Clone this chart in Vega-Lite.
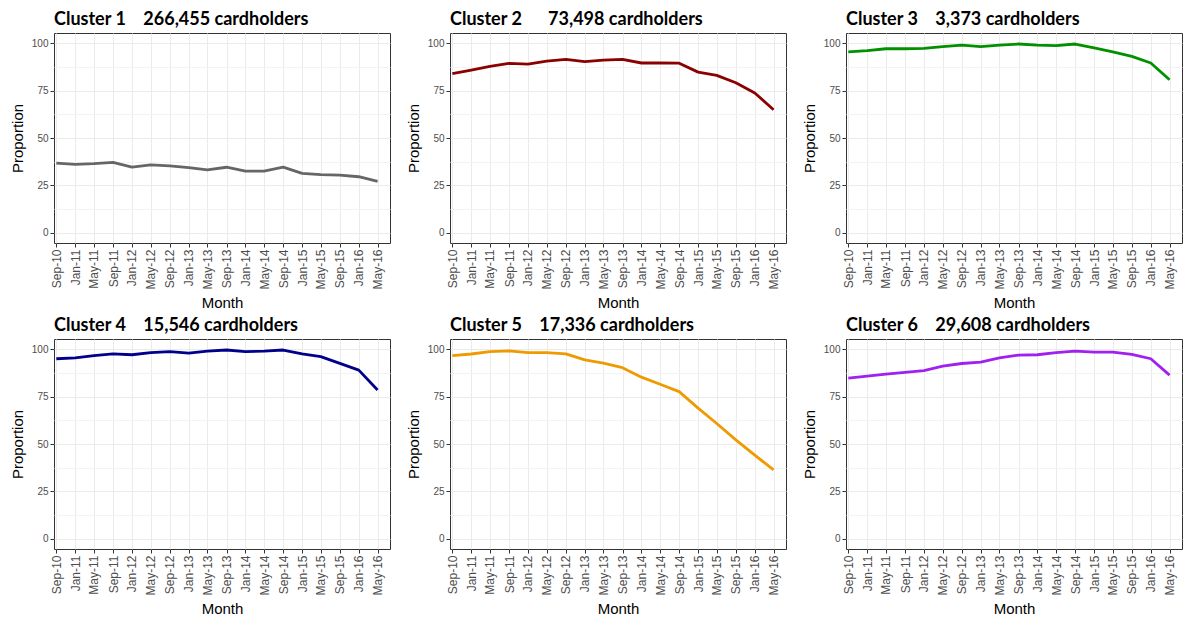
{
  "$schema": "https://vega.github.io/schema/vega-lite/v6.json",
  "padding": {"left": 9, "top": 10, "right": 2, "bottom": 2},
  "background": "white",
  "datasets": {
    "rows": [
      {"cluster": "Cluster 1\u00a0\u00a0\u00a0\u00a0266,455 cardholders", "month": "2010-09-01T00:00:00", "p": 36.8},
      {"cluster": "Cluster 1\u00a0\u00a0\u00a0\u00a0266,455 cardholders", "month": "2011-01-01T00:00:00", "p": 36.1},
      {"cluster": "Cluster 1\u00a0\u00a0\u00a0\u00a0266,455 cardholders", "month": "2011-05-01T00:00:00", "p": 36.5},
      {"cluster": "Cluster 1\u00a0\u00a0\u00a0\u00a0266,455 cardholders", "month": "2011-09-01T00:00:00", "p": 37.2},
      {"cluster": "Cluster 1\u00a0\u00a0\u00a0\u00a0266,455 cardholders", "month": "2012-01-01T00:00:00", "p": 34.7},
      {"cluster": "Cluster 1\u00a0\u00a0\u00a0\u00a0266,455 cardholders", "month": "2012-05-01T00:00:00", "p": 35.8},
      {"cluster": "Cluster 1\u00a0\u00a0\u00a0\u00a0266,455 cardholders", "month": "2012-09-01T00:00:00", "p": 35.3},
      {"cluster": "Cluster 1\u00a0\u00a0\u00a0\u00a0266,455 cardholders", "month": "2013-01-01T00:00:00", "p": 34.4},
      {"cluster": "Cluster 1\u00a0\u00a0\u00a0\u00a0266,455 cardholders", "month": "2013-05-01T00:00:00", "p": 33.2},
      {"cluster": "Cluster 1\u00a0\u00a0\u00a0\u00a0266,455 cardholders", "month": "2013-09-01T00:00:00", "p": 34.6},
      {"cluster": "Cluster 1\u00a0\u00a0\u00a0\u00a0266,455 cardholders", "month": "2014-01-01T00:00:00", "p": 32.6},
      {"cluster": "Cluster 1\u00a0\u00a0\u00a0\u00a0266,455 cardholders", "month": "2014-05-01T00:00:00", "p": 32.6},
      {"cluster": "Cluster 1\u00a0\u00a0\u00a0\u00a0266,455 cardholders", "month": "2014-09-01T00:00:00", "p": 34.7},
      {"cluster": "Cluster 1\u00a0\u00a0\u00a0\u00a0266,455 cardholders", "month": "2015-01-01T00:00:00", "p": 31.4},
      {"cluster": "Cluster 1\u00a0\u00a0\u00a0\u00a0266,455 cardholders", "month": "2015-05-01T00:00:00", "p": 30.7},
      {"cluster": "Cluster 1\u00a0\u00a0\u00a0\u00a0266,455 cardholders", "month": "2015-09-01T00:00:00", "p": 30.5},
      {"cluster": "Cluster 1\u00a0\u00a0\u00a0\u00a0266,455 cardholders", "month": "2016-01-01T00:00:00", "p": 29.6},
      {"cluster": "Cluster 1\u00a0\u00a0\u00a0\u00a0266,455 cardholders", "month": "2016-05-01T00:00:00", "p": 27.2},
      {"cluster": "Cluster 2\u00a0\u00a0\u00a0\u00a0\u00a0\u00a073,498 cardholders", "month": "2010-09-01T00:00:00", "p": 83.9},
      {"cluster": "Cluster 2\u00a0\u00a0\u00a0\u00a0\u00a0\u00a073,498 cardholders", "month": "2011-01-01T00:00:00", "p": 85.8},
      {"cluster": "Cluster 2\u00a0\u00a0\u00a0\u00a0\u00a0\u00a073,498 cardholders", "month": "2011-05-01T00:00:00", "p": 87.7},
      {"cluster": "Cluster 2\u00a0\u00a0\u00a0\u00a0\u00a0\u00a073,498 cardholders", "month": "2011-09-01T00:00:00", "p": 89.3},
      {"cluster": "Cluster 2\u00a0\u00a0\u00a0\u00a0\u00a0\u00a073,498 cardholders", "month": "2012-01-01T00:00:00", "p": 88.9},
      {"cluster": "Cluster 2\u00a0\u00a0\u00a0\u00a0\u00a0\u00a073,498 cardholders", "month": "2012-05-01T00:00:00", "p": 90.5},
      {"cluster": "Cluster 2\u00a0\u00a0\u00a0\u00a0\u00a0\u00a073,498 cardholders", "month": "2012-09-01T00:00:00", "p": 91.4},
      {"cluster": "Cluster 2\u00a0\u00a0\u00a0\u00a0\u00a0\u00a073,498 cardholders", "month": "2013-01-01T00:00:00", "p": 90.2},
      {"cluster": "Cluster 2\u00a0\u00a0\u00a0\u00a0\u00a0\u00a073,498 cardholders", "month": "2013-05-01T00:00:00", "p": 91.0},
      {"cluster": "Cluster 2\u00a0\u00a0\u00a0\u00a0\u00a0\u00a073,498 cardholders", "month": "2013-09-01T00:00:00", "p": 91.4},
      {"cluster": "Cluster 2\u00a0\u00a0\u00a0\u00a0\u00a0\u00a073,498 cardholders", "month": "2014-01-01T00:00:00", "p": 89.5},
      {"cluster": "Cluster 2\u00a0\u00a0\u00a0\u00a0\u00a0\u00a073,498 cardholders", "month": "2014-05-01T00:00:00", "p": 89.5},
      {"cluster": "Cluster 2\u00a0\u00a0\u00a0\u00a0\u00a0\u00a073,498 cardholders", "month": "2014-09-01T00:00:00", "p": 89.4},
      {"cluster": "Cluster 2\u00a0\u00a0\u00a0\u00a0\u00a0\u00a073,498 cardholders", "month": "2015-01-01T00:00:00", "p": 84.7},
      {"cluster": "Cluster 2\u00a0\u00a0\u00a0\u00a0\u00a0\u00a073,498 cardholders", "month": "2015-05-01T00:00:00", "p": 83.0},
      {"cluster": "Cluster 2\u00a0\u00a0\u00a0\u00a0\u00a0\u00a073,498 cardholders", "month": "2015-09-01T00:00:00", "p": 79.1},
      {"cluster": "Cluster 2\u00a0\u00a0\u00a0\u00a0\u00a0\u00a073,498 cardholders", "month": "2016-01-01T00:00:00", "p": 73.7},
      {"cluster": "Cluster 2\u00a0\u00a0\u00a0\u00a0\u00a0\u00a073,498 cardholders", "month": "2016-05-01T00:00:00", "p": 64.9},
      {"cluster": "Cluster 3\u00a0\u00a0\u00a0\u00a03,373 cardholders", "month": "2010-09-01T00:00:00", "p": 95.4},
      {"cluster": "Cluster 3\u00a0\u00a0\u00a0\u00a03,373 cardholders", "month": "2011-01-01T00:00:00", "p": 96.0},
      {"cluster": "Cluster 3\u00a0\u00a0\u00a0\u00a03,373 cardholders", "month": "2011-05-01T00:00:00", "p": 97.0},
      {"cluster": "Cluster 3\u00a0\u00a0\u00a0\u00a03,373 cardholders", "month": "2011-09-01T00:00:00", "p": 97.0},
      {"cluster": "Cluster 3\u00a0\u00a0\u00a0\u00a03,373 cardholders", "month": "2012-01-01T00:00:00", "p": 97.2},
      {"cluster": "Cluster 3\u00a0\u00a0\u00a0\u00a03,373 cardholders", "month": "2012-05-01T00:00:00", "p": 98.1},
      {"cluster": "Cluster 3\u00a0\u00a0\u00a0\u00a03,373 cardholders", "month": "2012-09-01T00:00:00", "p": 98.9},
      {"cluster": "Cluster 3\u00a0\u00a0\u00a0\u00a03,373 cardholders", "month": "2013-01-01T00:00:00", "p": 98.1},
      {"cluster": "Cluster 3\u00a0\u00a0\u00a0\u00a03,373 cardholders", "month": "2013-05-01T00:00:00", "p": 98.9},
      {"cluster": "Cluster 3\u00a0\u00a0\u00a0\u00a03,373 cardholders", "month": "2013-09-01T00:00:00", "p": 99.5},
      {"cluster": "Cluster 3\u00a0\u00a0\u00a0\u00a03,373 cardholders", "month": "2014-01-01T00:00:00", "p": 98.9},
      {"cluster": "Cluster 3\u00a0\u00a0\u00a0\u00a03,373 cardholders", "month": "2014-05-01T00:00:00", "p": 98.6},
      {"cluster": "Cluster 3\u00a0\u00a0\u00a0\u00a03,373 cardholders", "month": "2014-09-01T00:00:00", "p": 99.5},
      {"cluster": "Cluster 3\u00a0\u00a0\u00a0\u00a03,373 cardholders", "month": "2015-01-01T00:00:00", "p": 97.5},
      {"cluster": "Cluster 3\u00a0\u00a0\u00a0\u00a03,373 cardholders", "month": "2015-05-01T00:00:00", "p": 95.4},
      {"cluster": "Cluster 3\u00a0\u00a0\u00a0\u00a03,373 cardholders", "month": "2015-09-01T00:00:00", "p": 93.0},
      {"cluster": "Cluster 3\u00a0\u00a0\u00a0\u00a03,373 cardholders", "month": "2016-01-01T00:00:00", "p": 89.5},
      {"cluster": "Cluster 3\u00a0\u00a0\u00a0\u00a03,373 cardholders", "month": "2016-05-01T00:00:00", "p": 80.7},
      {"cluster": "Cluster 4\u00a0\u00a0\u00a0\u00a015,546 cardholders", "month": "2010-09-01T00:00:00", "p": 94.9},
      {"cluster": "Cluster 4\u00a0\u00a0\u00a0\u00a015,546 cardholders", "month": "2011-01-01T00:00:00", "p": 95.4},
      {"cluster": "Cluster 4\u00a0\u00a0\u00a0\u00a015,546 cardholders", "month": "2011-05-01T00:00:00", "p": 96.5},
      {"cluster": "Cluster 4\u00a0\u00a0\u00a0\u00a015,546 cardholders", "month": "2011-09-01T00:00:00", "p": 97.5},
      {"cluster": "Cluster 4\u00a0\u00a0\u00a0\u00a015,546 cardholders", "month": "2012-01-01T00:00:00", "p": 97.0},
      {"cluster": "Cluster 4\u00a0\u00a0\u00a0\u00a015,546 cardholders", "month": "2012-05-01T00:00:00", "p": 98.1},
      {"cluster": "Cluster 4\u00a0\u00a0\u00a0\u00a015,546 cardholders", "month": "2012-09-01T00:00:00", "p": 98.6},
      {"cluster": "Cluster 4\u00a0\u00a0\u00a0\u00a015,546 cardholders", "month": "2013-01-01T00:00:00", "p": 97.9},
      {"cluster": "Cluster 4\u00a0\u00a0\u00a0\u00a015,546 cardholders", "month": "2013-05-01T00:00:00", "p": 98.9},
      {"cluster": "Cluster 4\u00a0\u00a0\u00a0\u00a015,546 cardholders", "month": "2013-09-01T00:00:00", "p": 99.5},
      {"cluster": "Cluster 4\u00a0\u00a0\u00a0\u00a015,546 cardholders", "month": "2014-01-01T00:00:00", "p": 98.6},
      {"cluster": "Cluster 4\u00a0\u00a0\u00a0\u00a015,546 cardholders", "month": "2014-05-01T00:00:00", "p": 98.9},
      {"cluster": "Cluster 4\u00a0\u00a0\u00a0\u00a015,546 cardholders", "month": "2014-09-01T00:00:00", "p": 99.5},
      {"cluster": "Cluster 4\u00a0\u00a0\u00a0\u00a015,546 cardholders", "month": "2015-01-01T00:00:00", "p": 97.5},
      {"cluster": "Cluster 4\u00a0\u00a0\u00a0\u00a015,546 cardholders", "month": "2015-05-01T00:00:00", "p": 96.0},
      {"cluster": "Cluster 4\u00a0\u00a0\u00a0\u00a015,546 cardholders", "month": "2015-09-01T00:00:00", "p": 92.5},
      {"cluster": "Cluster 4\u00a0\u00a0\u00a0\u00a015,546 cardholders", "month": "2016-01-01T00:00:00", "p": 88.9},
      {"cluster": "Cluster 4\u00a0\u00a0\u00a0\u00a015,546 cardholders", "month": "2016-05-01T00:00:00", "p": 78.4},
      {"cluster": "Cluster 5\u00a0\u00a0\u00a0\u00a017,336 cardholders", "month": "2010-09-01T00:00:00", "p": 96.5},
      {"cluster": "Cluster 5\u00a0\u00a0\u00a0\u00a017,336 cardholders", "month": "2011-01-01T00:00:00", "p": 97.4},
      {"cluster": "Cluster 5\u00a0\u00a0\u00a0\u00a017,336 cardholders", "month": "2011-05-01T00:00:00", "p": 98.6},
      {"cluster": "Cluster 5\u00a0\u00a0\u00a0\u00a017,336 cardholders", "month": "2011-09-01T00:00:00", "p": 99.0},
      {"cluster": "Cluster 5\u00a0\u00a0\u00a0\u00a017,336 cardholders", "month": "2012-01-01T00:00:00", "p": 98.1},
      {"cluster": "Cluster 5\u00a0\u00a0\u00a0\u00a017,336 cardholders", "month": "2012-05-01T00:00:00", "p": 98.1},
      {"cluster": "Cluster 5\u00a0\u00a0\u00a0\u00a017,336 cardholders", "month": "2012-09-01T00:00:00", "p": 97.5},
      {"cluster": "Cluster 5\u00a0\u00a0\u00a0\u00a017,336 cardholders", "month": "2013-01-01T00:00:00", "p": 94.3},
      {"cluster": "Cluster 5\u00a0\u00a0\u00a0\u00a017,336 cardholders", "month": "2013-05-01T00:00:00", "p": 92.6},
      {"cluster": "Cluster 5\u00a0\u00a0\u00a0\u00a017,336 cardholders", "month": "2013-09-01T00:00:00", "p": 90.2},
      {"cluster": "Cluster 5\u00a0\u00a0\u00a0\u00a017,336 cardholders", "month": "2014-01-01T00:00:00", "p": 85.2},
      {"cluster": "Cluster 5\u00a0\u00a0\u00a0\u00a017,336 cardholders", "month": "2014-05-01T00:00:00", "p": 81.5},
      {"cluster": "Cluster 5\u00a0\u00a0\u00a0\u00a017,336 cardholders", "month": "2014-09-01T00:00:00", "p": 77.6},
      {"cluster": "Cluster 5\u00a0\u00a0\u00a0\u00a017,336 cardholders", "month": "2015-01-01T00:00:00", "p": 68.9},
      {"cluster": "Cluster 5\u00a0\u00a0\u00a0\u00a017,336 cardholders", "month": "2015-05-01T00:00:00", "p": 60.8},
      {"cluster": "Cluster 5\u00a0\u00a0\u00a0\u00a017,336 cardholders", "month": "2015-09-01T00:00:00", "p": 52.2},
      {"cluster": "Cluster 5\u00a0\u00a0\u00a0\u00a017,336 cardholders", "month": "2016-01-01T00:00:00", "p": 44.1},
      {"cluster": "Cluster 5\u00a0\u00a0\u00a0\u00a017,336 cardholders", "month": "2016-05-01T00:00:00", "p": 36.4},
      {"cluster": "Cluster 6\u00a0\u00a0\u00a0\u00a029,608 cardholders", "month": "2010-09-01T00:00:00", "p": 84.7},
      {"cluster": "Cluster 6\u00a0\u00a0\u00a0\u00a029,608 cardholders", "month": "2011-01-01T00:00:00", "p": 85.7},
      {"cluster": "Cluster 6\u00a0\u00a0\u00a0\u00a029,608 cardholders", "month": "2011-05-01T00:00:00", "p": 86.8},
      {"cluster": "Cluster 6\u00a0\u00a0\u00a0\u00a029,608 cardholders", "month": "2011-09-01T00:00:00", "p": 87.7},
      {"cluster": "Cluster 6\u00a0\u00a0\u00a0\u00a029,608 cardholders", "month": "2012-01-01T00:00:00", "p": 88.7},
      {"cluster": "Cluster 6\u00a0\u00a0\u00a0\u00a029,608 cardholders", "month": "2012-05-01T00:00:00", "p": 91.0},
      {"cluster": "Cluster 6\u00a0\u00a0\u00a0\u00a029,608 cardholders", "month": "2012-09-01T00:00:00", "p": 92.4},
      {"cluster": "Cluster 6\u00a0\u00a0\u00a0\u00a029,608 cardholders", "month": "2013-01-01T00:00:00", "p": 93.1},
      {"cluster": "Cluster 6\u00a0\u00a0\u00a0\u00a029,608 cardholders", "month": "2013-05-01T00:00:00", "p": 95.4},
      {"cluster": "Cluster 6\u00a0\u00a0\u00a0\u00a029,608 cardholders", "month": "2013-09-01T00:00:00", "p": 96.8},
      {"cluster": "Cluster 6\u00a0\u00a0\u00a0\u00a029,608 cardholders", "month": "2014-01-01T00:00:00", "p": 97.0},
      {"cluster": "Cluster 6\u00a0\u00a0\u00a0\u00a029,608 cardholders", "month": "2014-05-01T00:00:00", "p": 98.1},
      {"cluster": "Cluster 6\u00a0\u00a0\u00a0\u00a029,608 cardholders", "month": "2014-09-01T00:00:00", "p": 98.9},
      {"cluster": "Cluster 6\u00a0\u00a0\u00a0\u00a029,608 cardholders", "month": "2015-01-01T00:00:00", "p": 98.4},
      {"cluster": "Cluster 6\u00a0\u00a0\u00a0\u00a029,608 cardholders", "month": "2015-05-01T00:00:00", "p": 98.4},
      {"cluster": "Cluster 6\u00a0\u00a0\u00a0\u00a029,608 cardholders", "month": "2015-09-01T00:00:00", "p": 97.2},
      {"cluster": "Cluster 6\u00a0\u00a0\u00a0\u00a029,608 cardholders", "month": "2016-01-01T00:00:00", "p": 94.9},
      {"cluster": "Cluster 6\u00a0\u00a0\u00a0\u00a029,608 cardholders", "month": "2016-05-01T00:00:00", "p": 86.3}
    ]
  },
  "data": {"name": "rows"},
  "facet": {
    "field": "cluster",
    "type": "nominal",
    "header": {
      "title": null,
      "labelAnchor": "start",
      "labelAlign": "left",
      "labelFont": "Lato",
      "labelFontSize": 18,
      "labelFontWeight": "bold",
      "labelColor": "black",
      "labelPadding": 4
    }
  },
  "columns": 3,
  "spacing": {"column": 14, "row": 5},
  "resolve": {"axis": {"x": "independent", "y": "independent"}},
  "spec": {
    "width": 336,
    "height": 210,
    "mark": {"type": "line", "strokeWidth": 2.8, "strokeJoin": "round", "strokeCap": "butt"},
    "encoding": {
      "x": {
        "field": "month",
        "type": "temporal",
        "scale": {"domain": [{"year": 2010, "month": 8, "date": 17}, {"year": 2016, "month": 7, "date": 20}], "nice": false},
        "axis": {
          "title": "Month",
          "values": [
            {"year": 2010, "month": 9, "date": 1}, {"year": 2011, "month": 1, "date": 1}, {"year": 2011, "month": 5, "date": 1},
            {"year": 2011, "month": 9, "date": 1}, {"year": 2012, "month": 1, "date": 1}, {"year": 2012, "month": 5, "date": 1},
            {"year": 2012, "month": 9, "date": 1}, {"year": 2013, "month": 1, "date": 1}, {"year": 2013, "month": 5, "date": 1},
            {"year": 2013, "month": 9, "date": 1}, {"year": 2014, "month": 1, "date": 1}, {"year": 2014, "month": 5, "date": 1},
            {"year": 2014, "month": 9, "date": 1}, {"year": 2015, "month": 1, "date": 1}, {"year": 2015, "month": 5, "date": 1},
            {"year": 2015, "month": 9, "date": 1}, {"year": 2016, "month": 1, "date": 1}, {"year": 2016, "month": 5, "date": 1}
          ],
          "format": "%b-%y",
          "labelAngle": -90,
          "labelFlush": false,
          "labelOverlap": false,
          "labelFont": "Liberation Sans",
          "labelFontSize": 12,
          "labelColor": "#4d4d4d",
          "labelPadding": 2,
          "tickColor": "#333333",
          "tickSize": 4,
          "domain": false,
          "gridColor": "#ebebeb",
          "gridWidth": 1,
          "titleFont": "Liberation Sans",
          "titleFontSize": 15,
          "titleFontWeight": "normal",
          "titleColor": "black",
          "titlePadding": 6
        }
      },
      "y": {
        "field": "p",
        "type": "quantitative",
        "scale": {"domain": [-5.3, 105.3], "nice": false, "zero": false},
        "axis": {
          "title": "Proportion",
          "values": [0, 12.5, 25, 37.5, 50, 62.5, 75, 87.5, 100],
          "labelExpr": "datum.value % 25 === 0 ? datum.label : ''",
          "labelOverlap": false,
          "labelFont": "Liberation Sans",
          "labelFontSize": 10,
          "labelColor": "#4d4d4d",
          "labelPadding": 2,
          "tickColor": "#333333",
          "tickSize": 4,
          "tickOpacity": {"condition": {"test": "datum.value % 25 === 0", "value": 1}, "value": 0},
          "gridColor": {"condition": {"test": "datum.value % 25 === 0", "value": "#ebebeb"}, "value": "#f3f3f3"},
          "gridWidth": 1,
          "domain": false,
          "titleFont": "Liberation Sans",
          "titleFontSize": 15,
          "titleFontWeight": "normal",
          "titleColor": "black",
          "titlePadding": 6
        }
      },
      "color": {
        "field": "cluster",
        "type": "nominal",
        "legend": null,
        "scale": {
          "domain": [
            "Cluster 1\u00a0\u00a0\u00a0\u00a0266,455 cardholders",
            "Cluster 2\u00a0\u00a0\u00a0\u00a0\u00a0\u00a073,498 cardholders",
            "Cluster 3\u00a0\u00a0\u00a0\u00a03,373 cardholders",
            "Cluster 4\u00a0\u00a0\u00a0\u00a015,546 cardholders",
            "Cluster 5\u00a0\u00a0\u00a0\u00a017,336 cardholders",
            "Cluster 6\u00a0\u00a0\u00a0\u00a029,608 cardholders"
          ],
          "range": ["#666666", "#8B0000", "#009000", "#00008B", "#EE9A00", "#A020F0"]
        }
      }
    }
  },
  "config": {
    "view": {"stroke": "#333333", "strokeWidth": 1}
  }
}
